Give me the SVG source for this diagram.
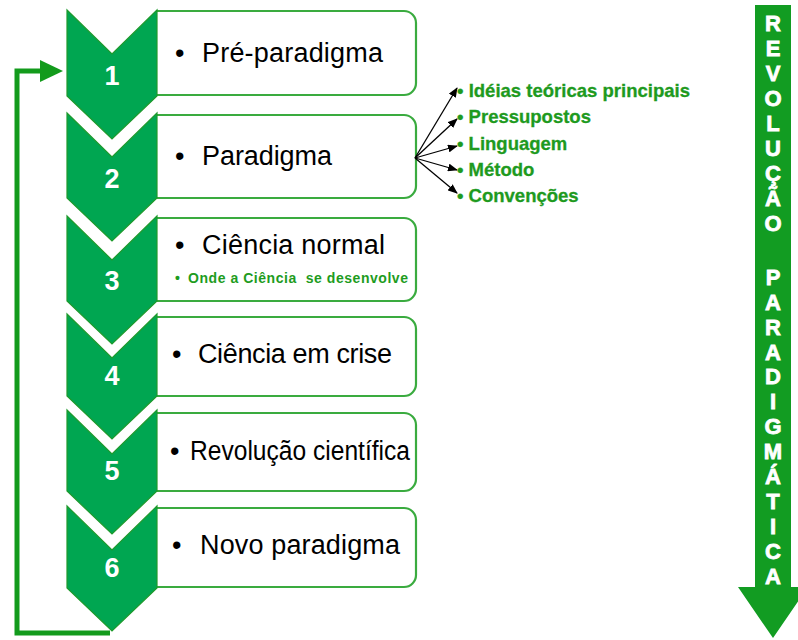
<svg xmlns="http://www.w3.org/2000/svg" width="798" height="640" viewBox="0 0 798 640">
<defs>
<style>
.chev{fill:#00a651;stroke:#1e9a2c;stroke-width:1.2}
.box{fill:#fff;stroke:#3aab3f;stroke-width:2.2}
.num{font-family:"Liberation Sans",Arial,sans-serif;font-weight:bold;font-size:27px;fill:#fff;text-anchor:middle}
.lbl{font-family:"Liberation Sans",Arial,sans-serif;font-size:27px;fill:#000}
.sub{font-family:"Liberation Sans",Arial,sans-serif;font-weight:bold;font-size:14px;fill:#1e9c1e;white-space:pre}
.gl{font-family:"Liberation Sans",Arial,sans-serif;font-weight:bold;font-size:18.5px;fill:#1e9a1e;stroke:#1e9a1e;stroke-width:0.3}
.fan{stroke:#000;stroke-width:1.3;fill:none}
.band{font-family:"Liberation Sans",Arial,sans-serif;font-weight:bold;font-size:22px;fill:#fff;stroke:#fff;stroke-width:0.8;text-anchor:middle}
</style>
<marker id="ah" markerWidth="10" markerHeight="8" refX="9" refY="4" orient="auto" markerUnits="userSpaceOnUse">
<path d="M0,0 L10,4 L0,8 Z" fill="#000"/>
</marker>
</defs>
<rect width="798" height="640" fill="#fff"/>

<g id="step1">
<path class="box" d="M157,11 H404 A12,12 0 0 1 416,23 V83 A12,12 0 0 1 404,95 H157"/>
<path class="chev" d="M67,10 L112,54 L157,10 L157,96 L112,139 L67,96 Z"/>
<text class="num" x="112" y="85">1</text>
<text class="lbl" x="175" y="62">•</text>
<text class="lbl" x="202" y="62" textLength="181">Pré-paradigma</text>
</g>

<g id="step2">
<path class="box" d="M157,115 H404 A12,12 0 0 1 416,127 V186 A12,12 0 0 1 404,198 H157"/>
<path class="chev" d="M67,113 L112,157 L157,113 L157,198 L112,241 L67,198 Z"/>
<text class="num" x="112" y="188">2</text>
<text class="lbl" x="175" y="165">•</text>
<text class="lbl" x="202" y="165" textLength="130">Paradigma</text>
</g>

<g id="step3">
<path class="box" d="M157,218 H404 A12,12 0 0 1 416,230 V289 A12,12 0 0 1 404,301 H157"/>
<path class="chev" d="M67,216 L112,260 L157,216 L157,301 L112,344 L67,301 Z"/>
<text class="num" x="112" y="290">3</text>
<text class="lbl" x="175" y="254">•</text>
<text class="lbl" x="202" y="254" textLength="183">Ciência normal</text>
<text class="sub" x="175" y="283">•</text>
<text class="sub" x="188" y="283" textLength="220">Onde a Ciência  se desenvolve</text>
</g>

<g id="step4">
<path class="box" d="M157,317 H404 A12,12 0 0 1 416,329 V384 A12,12 0 0 1 404,396 H157"/>
<path class="chev" d="M67,314 L112,358 L157,314 L157,396 L112,439 L67,396 Z"/>
<text class="num" x="112" y="385">4</text>
<text class="lbl" x="172" y="363">•</text>
<text class="lbl" x="198" y="363" textLength="194">Ciência em crise</text>
</g>

<g id="step5">
<path class="box" d="M157,413 H404 A12,12 0 0 1 416,425 V479 A12,12 0 0 1 404,491 H157"/>
<path class="chev" d="M67,410 L112,454 L157,410 L157,491 L112,534 L67,491 Z"/>
<text class="num" x="112" y="480">5</text>
<text class="lbl" x="170" y="460">•</text>
<text class="lbl" x="190" y="460" textLength="220" lengthAdjust="spacingAndGlyphs">Revolução científica</text>
</g>

<g id="step6">
<path class="box" d="M157,508 H404 A12,12 0 0 1 416,520 V575 A12,12 0 0 1 404,587 H157"/>
<path class="chev" d="M67,506 L112,550 L157,506 L157,588 L112,631 L67,588 Z"/>
<text class="num" x="112" y="577">6</text>
<text class="lbl" x="172" y="554">•</text>
<text class="lbl" x="200" y="554" textLength="200">Novo paradigma</text>
</g>

<g id="connectors">
<path d="M110,633 H17 V71 H44" fill="none" stroke="#139b1c" stroke-width="5"/>
<polygon points="40,60 63,71 40,82" fill="#139b1c"/>
<line class="fan" x1="415" y1="158" x2="457" y2="88" marker-end="url(#ah)"/>
<line class="fan" x1="415" y1="158" x2="457" y2="119" marker-end="url(#ah)"/>
<line class="fan" x1="415" y1="158" x2="457" y2="146" marker-end="url(#ah)"/>
<line class="fan" x1="415" y1="158" x2="457" y2="170" marker-end="url(#ah)"/>
<line class="fan" x1="415" y1="158" x2="457" y2="193" marker-end="url(#ah)"/>
</g>

<g id="paradigm-items">
<text class="gl" x="457" y="97" textLength="233">• Idéias teóricas principais</text>
<text class="gl" x="457" y="123">• Pressupostos</text>
<text class="gl" x="457" y="150">• Linguagem</text>
<text class="gl" x="457" y="176">• Método</text>
<text class="gl" x="457" y="202">• Convenções</text>
</g>

<g id="revolution-arrow">
<polygon points="755,5 791,5 791,587 808,587 773,638 738,587 755,587" fill="#129c22"/>
<text class="band" x="773" y="31">R</text>
<text class="band" x="773" y="56">E</text>
<text class="band" x="773" y="81">V</text>
<text class="band" x="773" y="106">O</text>
<text class="band" x="773" y="131">L</text>
<text class="band" x="773" y="156">U</text>
<text class="band" x="773" y="181">Ç</text>
<text class="band" x="773" y="206">Ã</text>
<text class="band" x="773" y="231">O</text>
<text class="band" x="773" y="285">P</text>
<text class="band" x="773" y="310">A</text>
<text class="band" x="773" y="335">R</text>
<text class="band" x="773" y="360">A</text>
<text class="band" x="773" y="384">D</text>
<text class="band" x="773" y="409">I</text>
<text class="band" x="773" y="434">G</text>
<text class="band" x="773" y="459">M</text>
<text class="band" x="773" y="484">Á</text>
<text class="band" x="773" y="509">T</text>
<text class="band" x="773" y="534">I</text>
<text class="band" x="773" y="559">C</text>
<text class="band" x="773" y="584">A</text>
</g>
</svg>
